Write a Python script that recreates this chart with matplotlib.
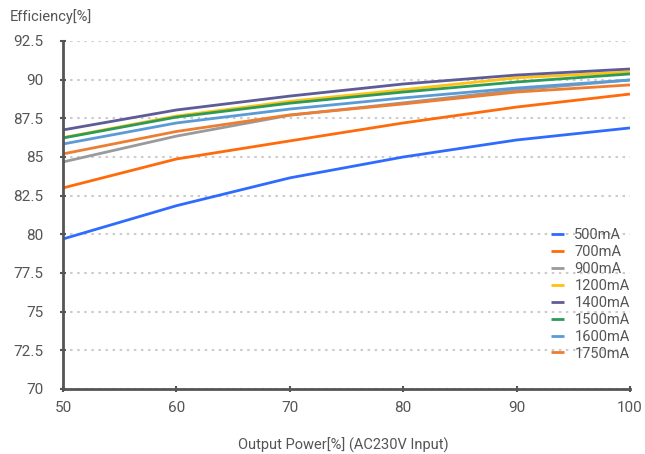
import matplotlib
matplotlib.use("Agg")
import matplotlib.pyplot as plt

plt.rcParams['font.family'] = ['Roboto', 'DejaVu Sans']

x_vals = [50, 60, 70, 80, 90, 100]
series_names = ["500mA", "700mA", "900mA", "1200mA", "1400mA", "1500mA", "1600mA", "1750mA"]
eff_500 = [79.7, 81.85, 83.65, 85.0, 86.1, 86.88]
eff_700 = [83.0, 84.87, 86.04, 87.2, 88.23, 89.07]
eff_900 = [84.68, 86.35, 87.7, 88.5, 89.33, 89.98]
eff_1200 = [86.25, 87.65, 88.6, 89.35, 90.12, 90.5]
eff_1400 = [86.75, 88.04, 88.94, 89.72, 90.3, 90.69]
eff_1500 = [86.23, 87.58, 88.48, 89.2, 89.85, 90.37]
eff_1600 = [85.84, 87.2, 88.1, 88.82, 89.46, 89.98]
eff_1750 = [85.2, 86.65, 87.72, 88.43, 89.2, 89.66]
all_series = [eff_500, eff_700, eff_900, eff_1200, eff_1400, eff_1500, eff_1600, eff_1750]
colors = ["#2F6BFF", "#FF6A0A", "#9A9A9A", "#FFC20E", "#5E5C96", "#2E9A5A", "#5B9BD5", "#ED7D31"]
y_ticks = [70, 72.5, 75, 77.5, 80, 82.5, 85, 87.5, 90, 92.5]
y_tick_labels = ["70", "72.5", "75", "77.5", "80", "82.5", "85", "87.5", "90", "92.5"]

fig = plt.figure(figsize=(6.45, 4.54), dpi=100)
ax = fig.add_axes([63/645, 1-389/454, (630-63)/645, (389-41)/454])

for name, vals, c in zip(series_names, all_series, colors):
    ax.plot(x_vals, vals, color=c, lw=2.0, label=name, solid_capstyle='butt')

ax.set_xlim(50, 100)
ax.set_ylim(70, 92.5)
ax.set_xticks(x_vals)
ax.set_yticks(y_ticks)
ax.set_yticklabels(y_tick_labels)
ax.yaxis.grid(True, color="#CCCCCC", linestyle=(0, (1.2, 2.2)), lw=1.5)
ax.set_axisbelow(True)

for s in ["top", "right"]:
    ax.spines[s].set_visible(False)
for s in ["left", "bottom"]:
    ax.spines[s].set_color("#555555")
    ax.spines[s].set_linewidth(2)

ax.tick_params(axis='both', colors="#555555", labelcolor="#555555", labelsize=11,
               length=4, width=1.5, direction='inout')
ax.tick_params(axis='y', pad=12)
ax.tick_params(axis='x', pad=7)

fig.text(10/645, 1-17/454, "Efficiency[%]", fontsize=10.5, color="#555555", va='center', ha='left')
fig.text(343/645, 1-445/454, "Output Power[%] (AC230V Input)", fontsize=10.5, color="#555555",
         va='center', ha='center')

leg = ax.legend(loc='lower right', bbox_to_anchor=(1.01, 0.065), frameon=False, fontsize=10.5,
                handlelength=0.85, handletextpad=0.75, labelspacing=0.2, borderaxespad=0.0)
for t in leg.get_texts():
    t.set_color("#555555")

fig.savefig("out.png", dpi=100)
